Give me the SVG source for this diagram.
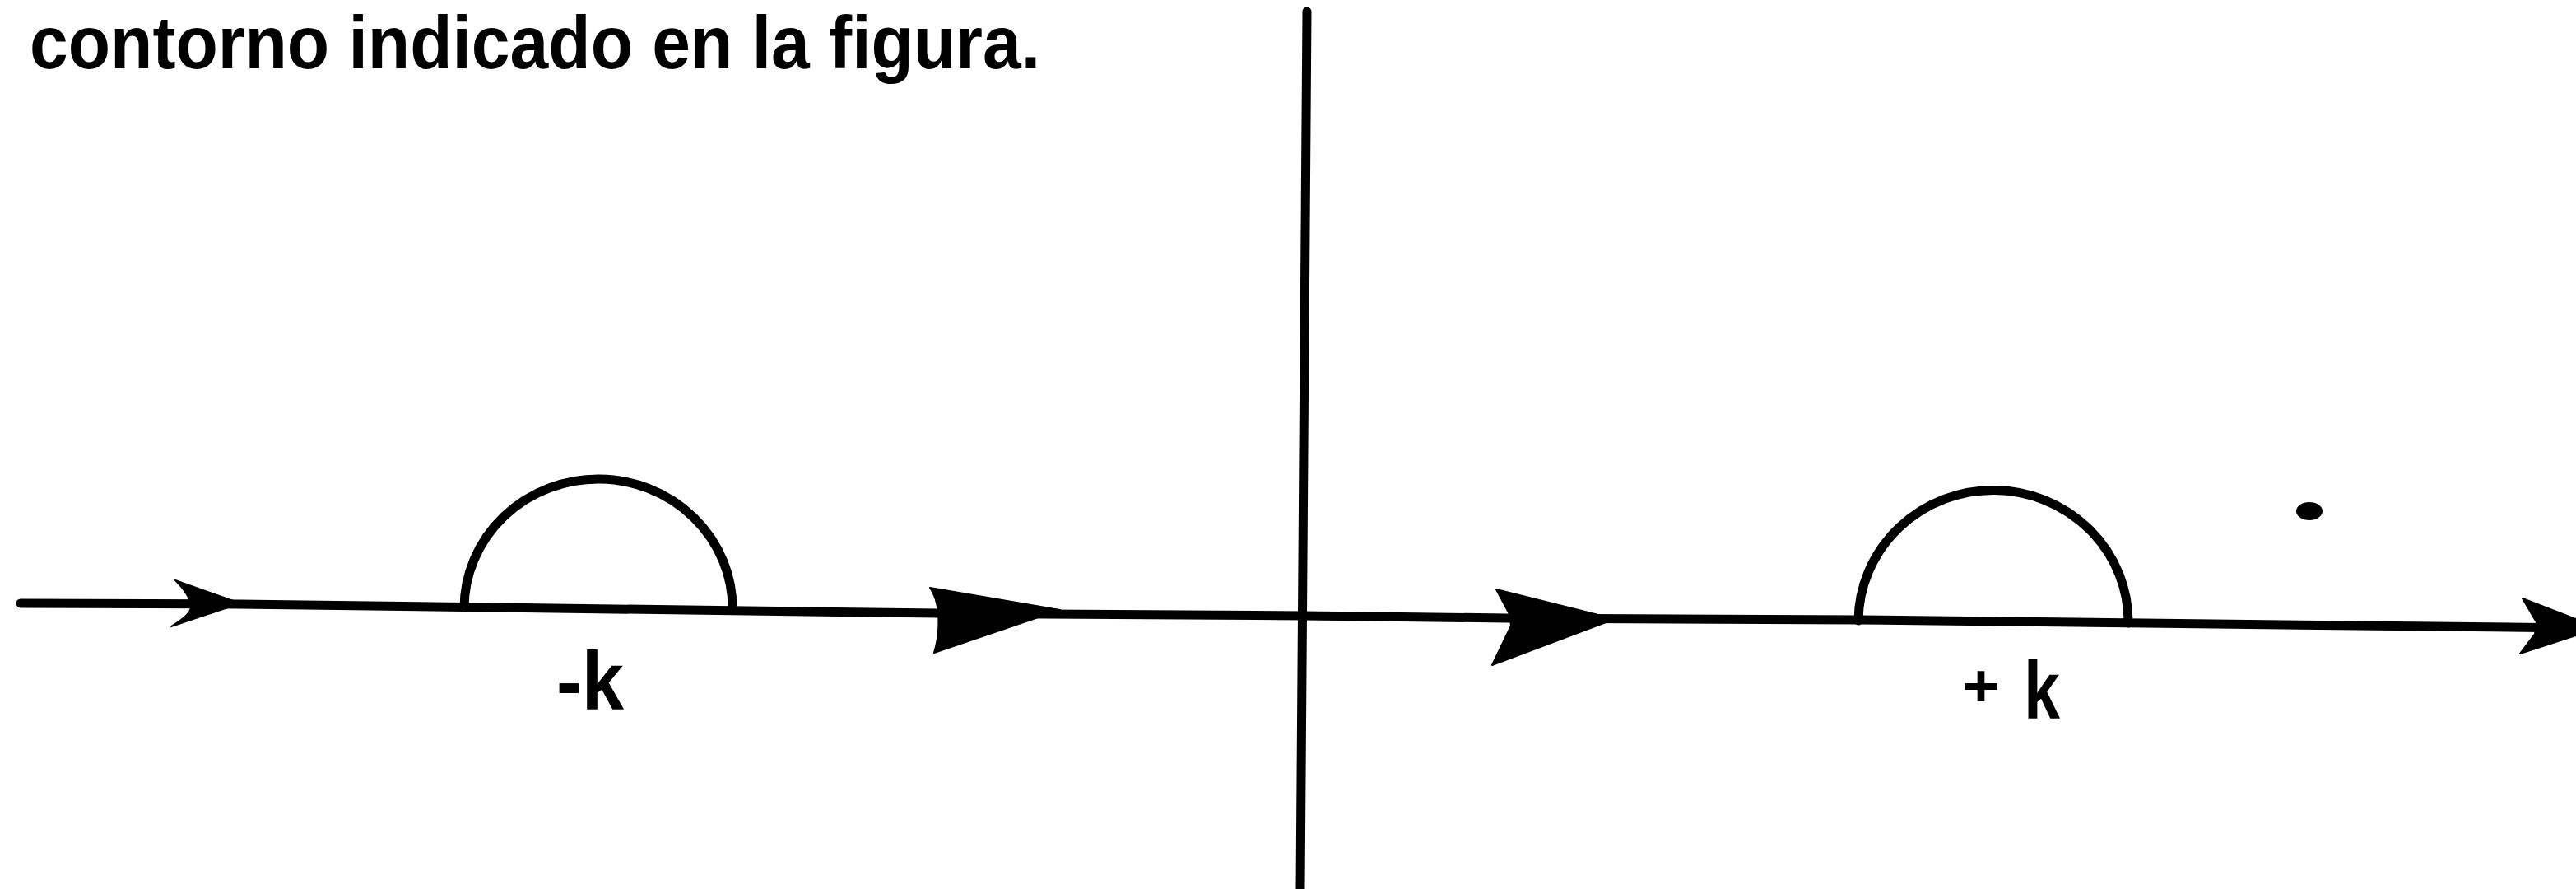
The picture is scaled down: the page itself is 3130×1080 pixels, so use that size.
<svg xmlns="http://www.w3.org/2000/svg" width="3130" height="1080" viewBox="0 0 3130 1080">
  <style>
    .ln { fill: none; stroke: #000; stroke-linecap: round; stroke-linejoin: round; }
    .hd { fill: #000; stroke: #000; stroke-width: 2; stroke-linejoin: round; }
    .tx { font-family: "Liberation Sans", Arial, sans-serif; font-weight: bold; fill: #000; }
  </style>
  <rect width="3130" height="1080" fill="#fff"/>
  <g id="title">
    <text class="tx" x="36" y="83" font-size="90" textLength="1228" lengthAdjust="spacingAndGlyphs">contorno indicado en la figura.</text>
  </g>
  <g id="axes">
    <line class="ln" x1="1588" y1="14" x2="1580" y2="1080" stroke-width="11"/>
    <polyline class="ln" stroke-width="11" points="25,733 290,734 1140,745 1585,748 1830,751 2260,753 3130,763"/>
  </g>
  <g id="connectors">
    <path id="semi-left" class="ln" stroke-width="11" d="M564,738 A163,157 0 0 1 890,740"/>
    <path id="semi-right" class="ln" stroke-width="11" d="M2258,754 A164,160 0 0 1 2586,757"/>
    <path class="hd" d="M213,705 L292,733 L208,761 Q234,746 232,735 Q230,722 213,705 Z"/>
    <path class="hd" d="M1130,714 L1288,741 L1135,793 Q1142,770 1140,745 Q1138,725 1130,714 Z"/>
    <path class="hd" d="M1818,716 L1962,752 L1813,808 L1836,760 L1834,746 Z"/>
    <path class="hd" d="M3065,727 L3130,752 L3130,772 L3062,794 L3080,770 L3082,756 Z"/>
  </g>
  <g id="dot">
    <ellipse cx="2806" cy="621" rx="16" ry="11" fill="#000"/>
  </g>
  <g id="label-minus-k">
    <text class="tx" x="676" y="862" font-size="100" textLength="82" lengthAdjust="spacingAndGlyphs">-k</text>
  </g>
  <g id="label-plus-k">
    <text class="tx" x="2384" y="858" font-size="72" textLength="46" lengthAdjust="spacingAndGlyphs">+</text>
    <text class="tx" x="2459" y="873" font-size="100" textLength="44" lengthAdjust="spacingAndGlyphs">k</text>
  </g>
</svg>
